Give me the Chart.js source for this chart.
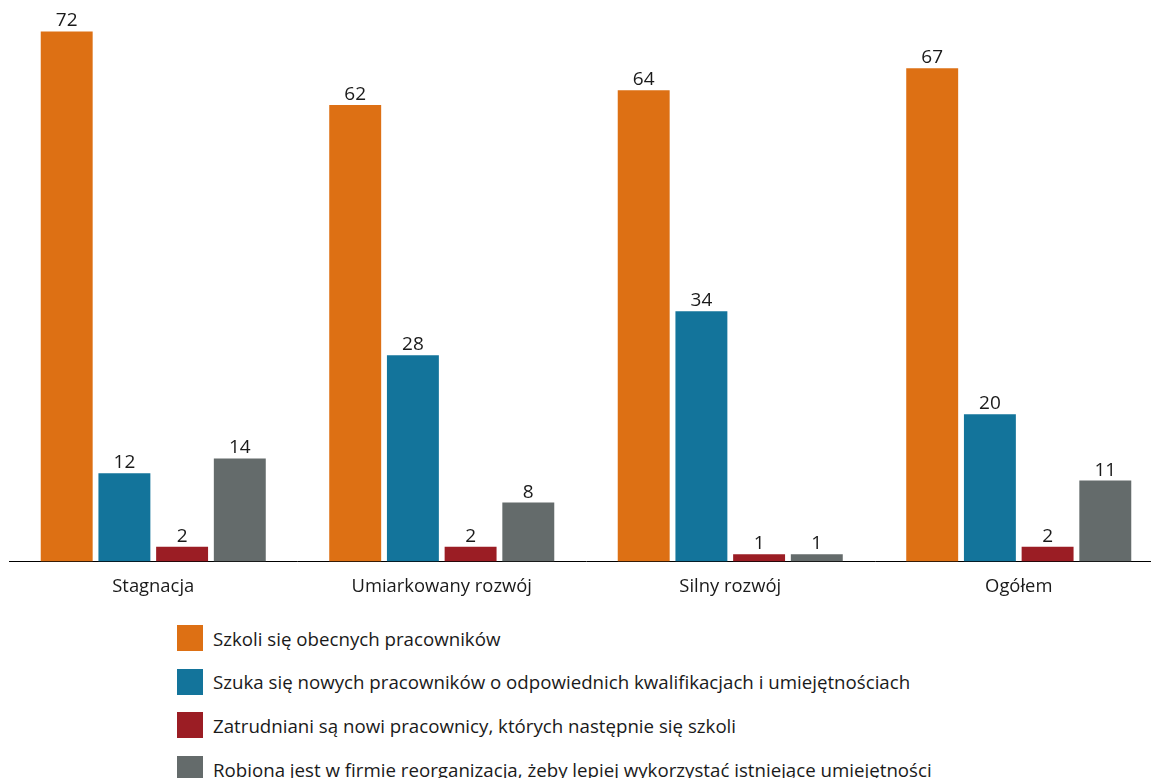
<!DOCTYPE html>
<html lang="pl">
<head>
<meta charset="utf-8">
<script src="https://cdn.jsdelivr.net/npm/chart.js@4.4.1/dist/chart.umd.min.js"></script>
<style>
    html, body {
        margin: 0;
        padding: 0;
        background: #fff;
        overflow: hidden;
        font-family: "Open Sans", sans-serif;
    }
    .wrap {
        position: relative;
        width: 1151px;
        height: 778px;
        overflow: hidden;
    }
    .chart-box {
        position: absolute;
        left: 0;
        top: 0;
        width: 1163px;
        height: 602px;
    }
    .legend {
        position: absolute;
        left: 177px;
        top: 625px;
        margin: 0;
        padding: 0;
        list-style: none;
    }
    .legend li {
        display: flex;
        align-items: center;
        height: 26px;
        margin-bottom: 17.7px;
        font-size: 18.7px;
        color: #1a1a1a;
        white-space: nowrap;
    }
    .legend .swatch {
        width: 26px;
        height: 26px;
        margin-right: 10px;
        flex: none;
    }
</style>
</head>
<body>
<div class="wrap">
    <div class="chart-box"><canvas id="chart"></canvas></div>
    <ul class="legend" id="legend"></ul>
</div>
<script>
const categories = ['Stagnacja', 'Umiarkowany rozwój', 'Silny rozwój', 'Ogółem'];

const seriesNames = [
    'Szkoli się obecnych pracowników',
    'Szuka się nowych pracowników o odpowiednich kwalifikacjach i umiejętnościach',
    'Zatrudniani są nowi pracownicy, których następnie się szkoli',
    'Robiona jest w firmie reorganizacja, żeby lepiej wykorzystać istniejące umiejętności'
];

const szkoliObecnych = [72, 62, 64, 67];
const szukaNowych = [12, 28, 34, 20];
const zatrudnianiNowi = [2, 2, 1, 2];
const reorganizacja = [14, 8, 1, 11];

const seriesColors = ['#dd7014', '#13749b', '#9b1d24', '#646b6b'];

const fontFamily = '"Open Sans", sans-serif';

// wartości nad słupkami
const valueLabels = {
    id: 'valueLabels',
    afterDatasetsDraw(chart) {
        const ctx = chart.ctx;
        ctx.save();
        ctx.font = '19px ' + fontFamily;
        ctx.fillStyle = '#1a1a1a';
        ctx.textAlign = 'center';
        ctx.textBaseline = 'alphabetic';
        chart.data.datasets.forEach((ds, i) => {
            const meta = chart.getDatasetMeta(i);
            meta.data.forEach((bar, j) => {
                ctx.fillText(String(ds.data[j]), bar.x, bar.y - 5);
            });
        });
        ctx.restore();
    }
};

const allSeries = [szkoliObecnych, szukaNowych, zatrudnianiNowi, reorganizacja];

const datasets = allSeries.map((values, i) => ({
    label: seriesNames[i],
    data: values,
    backgroundColor: seriesColors[i],
    borderWidth: 0,
    categoryPercentage: 0.8,
    barPercentage: 0.9
}));

const ctx = document.getElementById('chart').getContext('2d');
new Chart(ctx, {
    type: 'bar',
    data: {
        labels: categories,
        datasets: datasets
    },
    options: {
        responsive: true,
        maintainAspectRatio: false,
        animation: false,
        layout: {
            padding: { top: 2, left: 9, right: 0, bottom: 0 }
        },
        plugins: {
            legend: { display: false },
            tooltip: { enabled: false }
        },
        scales: {
            x: {
                grid: { display: false },
                border: { display: true, color: '#000', width: 1 },
                ticks: {
                    color: '#1a1a1a',
                    padding: 6,
                    font: { family: fontFamily, size: 18.4 }
                },
                afterFit(scale) {
                    scale.height = 40.5;
                }
            },
            y: {
                display: false,
                min: 0,
                max: 76
            }
        }
    },
    plugins: [valueLabels]
});

// legenda pod wykresem
const legend = document.getElementById('legend');
seriesNames.forEach((name, i) => {
    const li = document.createElement('li');
    const sw = document.createElement('span');
    sw.className = 'swatch';
    sw.style.background = seriesColors[i];
    li.appendChild(sw);
    li.appendChild(document.createTextNode(name));
    legend.appendChild(li);
});
</script>
</body>
</html>
